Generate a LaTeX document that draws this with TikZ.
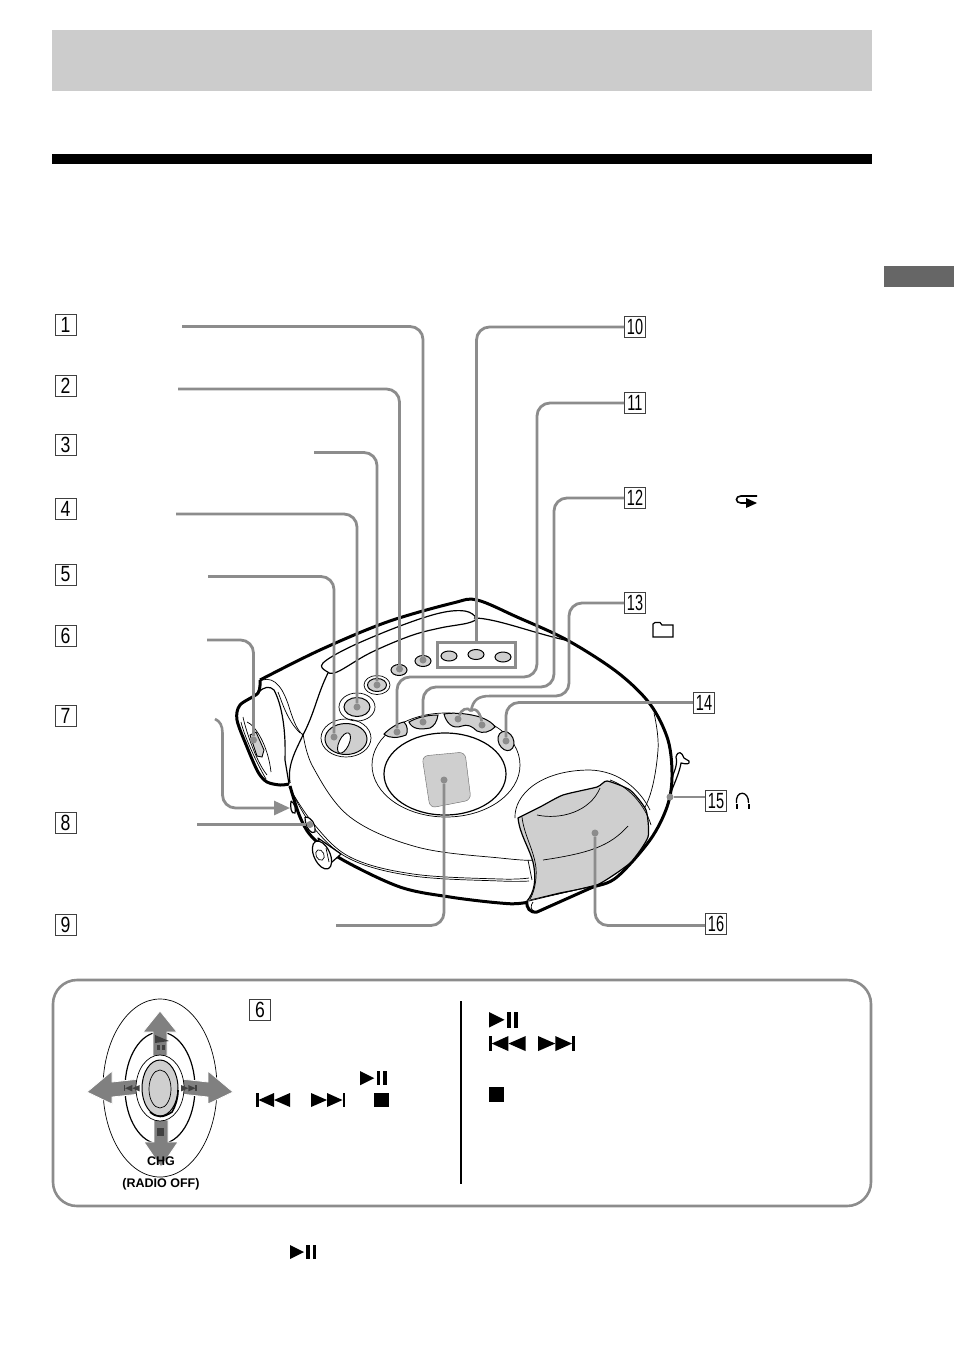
\documentclass[tikz,border=0pt]{standalone}
\usepackage{fontspec}
\usepackage{graphicx}
\setmainfont{Liberation Sans}
\usetikzlibrary{arrows.meta}
\definecolor{partgray}{HTML}{CFCFCF}
\definecolor{linegray}{HTML}{8C8C8C}
\definecolor{arrowgray}{HTML}{808080}
\definecolor{tabgray}{HTML}{666666}
\tikzset{
 x=1pt,y=-1pt,
 numbox/.style={draw=black!75,line width=1pt,fill=white,minimum width=21pt,minimum height=21pt,inner sep=0pt,font=\fontsize{22}{22}\selectfont},
 conn/.style={draw=linegray,line width=2.8pt,rounded corners=13pt},
 plainconn/.style={draw=linegray,line width=2.6pt},
 dotn/.style={circle,fill=linegray,inner sep=0pt,minimum size=7pt},
 thick line/.style={line width=3pt,line join=round},
 mid line/.style={line width=1.2pt,line join=round},
 thin line/.style={line width=.7pt,line join=round},
 part/.style={fill=partgray,draw=black,line width=1pt},
 arrowshape/.style={fill=arrowgray,draw=white,line width=.8pt,line join=miter},
}
\newcommand{\dg}[1]{\scalebox{0.8}[1]{#1}}
\newcommand{\ddg}[1]{\scalebox{0.66}[1]{#1}}
\newcommand{\icplay}[3]{% x y scale
 \begin{scope}[shift={(#1,#2)},scale=#3]
 \fill (0,0)--(13,6.5)--(0,13)--cycle;
 \fill (15,0) rectangle (18.5,13);
 \fill (21,0) rectangle (24.5,13);
 \end{scope}}
\newcommand{\icprev}[3]{%
 \begin{scope}[shift={(#1,#2)},scale=#3]
 \fill (0,0) rectangle (2.5,14);
 \fill (2.5,7)--(18,0)--(18,14)--cycle;
 \fill (18,7)--(34,0)--(34,14)--cycle;
 \end{scope}}
\newcommand{\icnext}[3]{%
 \begin{scope}[shift={(#1,#2)},scale=#3]
 \fill (0,0)--(16,7)--(0,14)--cycle;
 \fill (16,0)--(31.5,7)--(16,14)--cycle;
 \fill (31.5,0) rectangle (34,14);
 \end{scope}}
\begin{document}
\begin{tikzpicture}
\useasboundingbox (0,0) rectangle (954,1357);
\fill[white] (0,0) rectangle (954,1357);
% page furniture
\fill[black!20] (52,30) rectangle (872,91);
\fill[black] (52,154) rectangle (872,164);
\fill[tabgray] (884,266) rectangle (954,287);

% ---------- device ----------
% strap on the right
\draw[mid line] (670,782) .. controls (674,772) and (678,765) .. (676,757) .. controls (678,750) and (682,752) .. (684,758) -- (689,761) .. controls (690,765) and (686,764) .. (681,763) .. controls (680,770) and (676,780) .. (671,792);
\draw[mid line] (671,790) -- (660,815) -- (656,830);
\draw[mid line] (664,793) -- (652,822);
% body outline
\draw[thick line,fill=white] plot[smooth,tension=.55] coordinates {(260,680) (320,650) (387,622) (453,603) (477,600) (517,617) (567,640) (617,672) (650,704) (668,740) (672,777) (667,807) (650,840) (617,877) (593,887) (560,895) (523,903) (500,903) (450,897) (400,887) (343,860) (313,838) (300,817) (290,786)};
% left knob
\draw[thick line,fill=white] plot[smooth,tension=.5] coordinates {(260,680) (258,693) (240,705) (237,720) (247,747) (258,772) (267,782) (280,785) (289,784)};
\draw[mid line] (258,693) .. controls (264,686) and (270,686) .. (274,690) .. controls (282,705) and (286,730) .. (285,760) -- (289,784);
\draw[thin line] (262,680) .. controls (276,676) and (284,690) .. (290,710) .. controls (294,722) and (297,730) .. (303,735);
\draw[thin line] (278,692) .. controls (282,702) and (287,720) .. (300,733);
\draw[thin line] (243,717) .. controls (245,727) and (255,760) .. (267,775);
\draw[thin line] (247,722) .. controls (255,725) and (268,745) .. (271,772);
\draw[thin line] (241,722) .. controls (244,735) and (255,760) .. (266,779);
\draw[fill=partgray,line width=.9pt] (250,735) -- (256,732) -- (264,750) -- (262,757) -- (257,756) -- cycle;
% interior sweep
\draw[mid line] (290,783) .. controls (287,765) and (296,750) .. (303,735) .. controls (315,712) and (317,695) .. (328,673);
% handle shape
\draw[mid line] plot[smooth cycle,tension=.6] coordinates {(323,663) (350,647) (400,626) (440,613) (465,611) (476,618) (468,623) (440,628) (410,636) (370,653) (337,672) (326,671)};
\draw[mid line] (474,618) .. controls (495,618) and (530,632) .. (565,640);
% inner disc arc
\draw[thin line] plot[smooth,tension=.6] coordinates {(303,733) (313,767) (350,817) (417,847) (500,858) (543,860) (590,853) (617,841) (647,803) (658,750) (654,713)};
% rim lines
\draw[thin line] plot[smooth,tension=.6] coordinates {(289,787) (313,823) (350,857) (413,874) (500,879) (529,878)};
\draw[thin line] plot[smooth,tension=.6] coordinates {(291,790) (313,827) (350,859) (413,876) (500,881) (529,881)};
\draw[thin line] (528,860) -- (532,880);
% side nubs
\draw[mid line,fill=white] (291,801) .. controls (295,803) and (296,810) .. (295,813) .. controls (291,815) and (290,806) .. (291,801);
\draw[mid line,fill=white] (305,817) .. controls (312,817) and (316,825) .. (315,832) .. controls (312,835) and (305,828) .. (305,817);
% small wheel lower left, in front of the body
\draw[mid line,fill=white] (318,838) -- (341,854) -- (332,862) -- (322,850) -- cycle;
\draw[mid line,fill=white,rotate around={25:(322,855)}] (322,855) ellipse (8 and 15);
\draw[thin line,rotate around={25:(320,855)}] (320,855) ellipse (4 and 5.5);
\draw[thin line] (326,848) -- (329,862);
% gray cover
\draw[thin line] (515,818) .. controls (514,795) and (540,770) .. (590,770) .. controls (620,771) and (640,790) .. (650,810);
\draw[mid line,fill=partgray] plot[smooth,tension=.35] coordinates {(518,818) (540,807) (563,795) (597,787) (607,781) (630,790) (646,810) (648,837) (630,863) (597,885) (560,893) (527,901)} .. controls (534,893) and (537,880) .. (533,862) .. controls (528,845) and (520,835) .. (518,818) -- cycle;
\draw[thin line] (522,817) .. controls (524,835) and (534,850) .. (536,868) .. controls (537,880) and (534,893) .. (530,899);
\draw[thin line] (610,780) .. controls (628,786) and (645,805) .. (651,825);
\draw[thin line] (537,815) .. controls (560,820) and (590,812) .. (600,788);
\draw[thin line] (543,860) .. controls (590,853) and (610,846) .. (628,826);
% foot
\draw[thick line,fill=white] (527,901) .. controls (526,908) and (530,913) .. (537,912) -- (593,887);
\draw[thin line] (529,901) -- (600,884);
\draw[thin line] (533,902) .. controls (530,906) and (531,910) .. (534,911);

% control circle
\draw[thin line] (446,765) ellipse (74 and 52);
\draw[mid line] (445,774) ellipse (61 and 41);
% display
\draw[fill=partgray,draw=black!60,line width=.4pt,rounded corners=6pt] (422,756) -- (465,752) -- (471,800) -- (430,808) -- cycle;

% buttons
\draw[part] (449,656) ellipse (8 and 5);
\draw[part] (476,654.5) ellipse (8 and 5);
\draw[part] (503,657) ellipse (8 and 5);
\draw[part] (423,661) ellipse (8 and 5.5);
\draw[part] (399,670) ellipse (8 and 5.5);
\draw[part] (377,685) ellipse (9.5 and 6.5);
\draw[thin line] (377,685) ellipse (13 and 9.5);
\draw[part] (357,707) ellipse (13 and 9.5);
\draw[thin line] (357,707) ellipse (18 and 14);
\draw[thin line] (346,738) ellipse (25 and 19);
\draw[part] (346,739) ellipse (21 and 15.5);
\draw[fill=white,line width=.9pt,rotate around={-25:(344,743)}] (344,743) ellipse (5 and 11);
\draw[part] (384,734) .. controls (390,728) and (398,723) .. (404,722) .. controls (408,726) and (408,732) .. (406,735) .. controls (398,738) and (390,739) .. (384,734) -- cycle;
\draw[part] (409,722) .. controls (418,717) and (428,715) .. (438,715) .. controls (437,722) and (434,726) .. (430,728) .. controls (420,730) and (412,729) .. (409,722) -- cycle;
\draw[part] (444,714) .. controls (455,712) and (470,714) .. (480,717) .. controls (488,720) and (494,724) .. (495,727) .. controls (490,732) and (483,734) .. (477,731) .. controls (472,726) and (467,724) .. (462,726) .. controls (452,730) and (446,722) .. (444,714) -- cycle;
\draw[part,rotate around={25:(506,741)}] (506,741) ellipse (7.5 and 10);

% number boxes
\node[numbox] (b1) at (65.5,324.5) {\dg{1}};
\node[numbox] (b2) at (65.5,385.5) {\dg{2}};
\node[numbox] (b3) at (65.5,444.5) {\dg{3}};
\node[numbox] (b4) at (65.5,508.5) {\dg{4}};
\node[numbox] (b5) at (65.5,574.5) {\dg{5}};
\node[numbox] (b6) at (65.5,635.5) {\dg{6}};
\node[numbox] (b7) at (65.5,715.5) {\dg{7}};
\node[numbox] (b8) at (65.5,822.5) {\dg{8}};
\node[numbox] (b9) at (65.5,924.5) {\dg{9}};
\node[numbox] (b10) at (635,327) {\ddg{10}};
\node[numbox] (b11) at (635,403) {\ddg{11}};
\node[numbox] (b12) at (635,498) {\ddg{12}};
\node[numbox] (b13) at (635,603) {\ddg{13}};
\node[numbox] (b14) at (704,702.5) {\ddg{14}};
\node[numbox] (b15) at (716,801) {\ddg{15}};
\node[numbox] (b16) at (716,924) {\ddg{16}};

% dots
\node[dotn] (d1) at (423,660) {};
\node[dotn] (d2) at (399.5,669) {};
\node[dotn] (d3) at (377,685) {};
\node[dotn] (d4) at (357,707) {};
\node[dotn] (d5) at (334,737) {};
\node[dotn] (d6) at (253.5,740) {};
\node[dotn] (d8) at (310,824.5) {};
\node[dotn] (d9) at (444,780) {};
\node[dotn] (d11) at (397,732) {};
\node[dotn] (d12) at (423,722) {};
\node[dotn] (d13a) at (458,719) {};
\node[dotn] (d13b) at (482,725) {};
\node[dotn] (d14) at (506,741) {};
\node[dotn] (d15) at (670,797) {};
\node[dotn] (d16) at (595,833) {};
% rectangle round the three buttons
\node[draw=linegray,line width=2.8pt,minimum width=78pt,minimum height=25pt,inner sep=0pt] (r10) at (476.5,655) {};

% free ends
\coordinate (f1) at (182,326.5);
\coordinate (f2) at (178,389);
\coordinate (f3) at (314,452.5);
\coordinate (f4) at (176,514);
\coordinate (f5) at (208,576.5);
\coordinate (f6) at (207,640);
\coordinate (f7) at (215,719);
\coordinate (j7) at (222.5,733);
\coordinate (f8) at (197,824.5);
\coordinate (f9) at (336,925.5);
\coordinate (j11) at (537,677);
\coordinate (j12) at (554,687);
\coordinate (j13) at (569,696);
\coordinate (m13) at (490,696);
\coordinate (k13) at (471,711);
\coordinate (t7) at (290,808);

% connectors
\draw[conn] (f1) -| (d1);
\draw[conn] (f2) -| (d2);
\draw[conn] (f3) -| (d3);
\draw[conn] (f4) -| (d4);
\draw[conn] (f5) -| (d5);
\draw[conn] (f6) -| (d6);
\draw[plainconn] (f7) .. controls (220,721) and (222.5,726) .. (j7);
\draw[conn,-{Triangle[length=16pt,width=14pt]}] (j7) |- (t7);
\draw[conn] (f8) -- (d8);
\draw[conn] (f9) -| (d9);
\draw[conn] (b10.west |- 0,327) -| (r10.north);
\draw[conn] (b11.west) -| (j11) -| (d11);
\draw[conn] (b12.west) -| (j12) -| (d12);
\draw[plainconn] (k13) .. controls (473,700) and (478,696) .. (m13);
\draw[conn] (b13.west) -| (j13) -- (m13);
\draw[plainconn] (k13) .. controls (467,706) and (461,710) .. (d13a);
\draw[plainconn] (k13) .. controls (476,706) and (481,715) .. (d13b);
\draw[conn] (b14.west) -| (d14);
\draw[conn] (b15.west |- d15) -- (d15);
\draw[conn] (b16.west |- 0,925.5) -| (d16);

% headphone, repeat and folder symbols
\draw[line width=1.3pt] (736.5,803) .. controls (735,790) and (749,790) .. (748.5,803);
\fill (735.5,804) rectangle (738,809);
\fill (747.5,804) rectangle (750,809);
\draw[line width=1.6pt] (757,496) -- (741,496) .. controls (735,496) and (735,503) .. (741,503) -- (748,503);
\fill (746,498) -- (757,503) -- (746,508) -- cycle;
\draw[line width=1.2pt] (653,637) -- (653,624) -- (655,622.5) -- (660,622.5) -- (662,625) -- (673,625) -- (673,637) -- cycle;

% ---------- panel ----------
\draw[draw=linegray,line width=2.6pt,rounded corners=24pt] (53,980) rectangle (871,1206);
\draw[line width=2pt,black] (460.5,1001) -- (460.5,1184);
\node[numbox] (b6p) at (260,1010) {\dg{6}};
\draw[thin line] (160,1088) ellipse (57 and 89);
\draw[mid line] (160,1088) ellipse (35 and 56);
\draw[arrowshape] (160,1011) -- (177,1032) -- (167,1032) -- (167,1056) -- (153,1056) -- (153,1032) -- (143,1032) -- cycle;
\draw[arrowshape] (161,1167) -- (178,1142) -- (168,1142) -- (168,1120) -- (154,1120) -- (154,1142) -- (144,1142) -- cycle;
\draw[arrowshape] (87,1092) -- (112,1071) -- (112,1082) -- (140,1079) -- (140,1094) -- (112,1097) -- (112,1104) -- cycle;
\draw[arrowshape] (233,1092) -- (208,1071) -- (208,1082) -- (181,1079) -- (181,1094) -- (208,1097) -- (208,1104) -- cycle;
\draw[thin line,fill=white] (160,1088) ellipse (24 and 33);
\draw[line width=1pt,fill=partgray] (160,1088) ellipse (18 and 28);
\draw[line width=1.6pt] (150,1112) .. controls (157,1118) and (163,1118) .. (172,1112) .. controls (176,1105) and (178,1098) .. (178,1090);
\draw[thin line] (160,1089) ellipse (11 and 19);
% icons on the arrows
\begin{scope}[black!75]
\fill (155,1035) -- (169,1041) -- (155,1043) -- cycle;
\fill (157,1045) rectangle (160,1050);
\fill (162,1045) rectangle (165,1050);
\icprev{124}{1085}{.46}
\icnext{181}{1085}{.46}
\fill (157,1128) rectangle (164,1136);
\end{scope}
\node[font=\bfseries\fontsize{12.5}{13}\selectfont,inner sep=0pt,text=black] (chg) at (161,1161) {CHG};
\node[font=\bfseries\fontsize{12.5}{13}\selectfont,inner sep=0pt,text=black] (radio) at (161,1184) {(RADIO OFF)};
% black symbols
\icplay{360}{1071}{1.1}
\icprev{256}{1093}{1}
\icnext{311}{1093}{1}
\fill (374,1093) rectangle (389,1107);
\icplay{489}{1012}{1.2}
\icprev{489}{1036}{1.08}
\icnext{538}{1036}{1.08}
\fill (489,1087) rectangle (504,1102);
\icplay{290}{1245}{1.08}
\end{tikzpicture}
\end{document}
